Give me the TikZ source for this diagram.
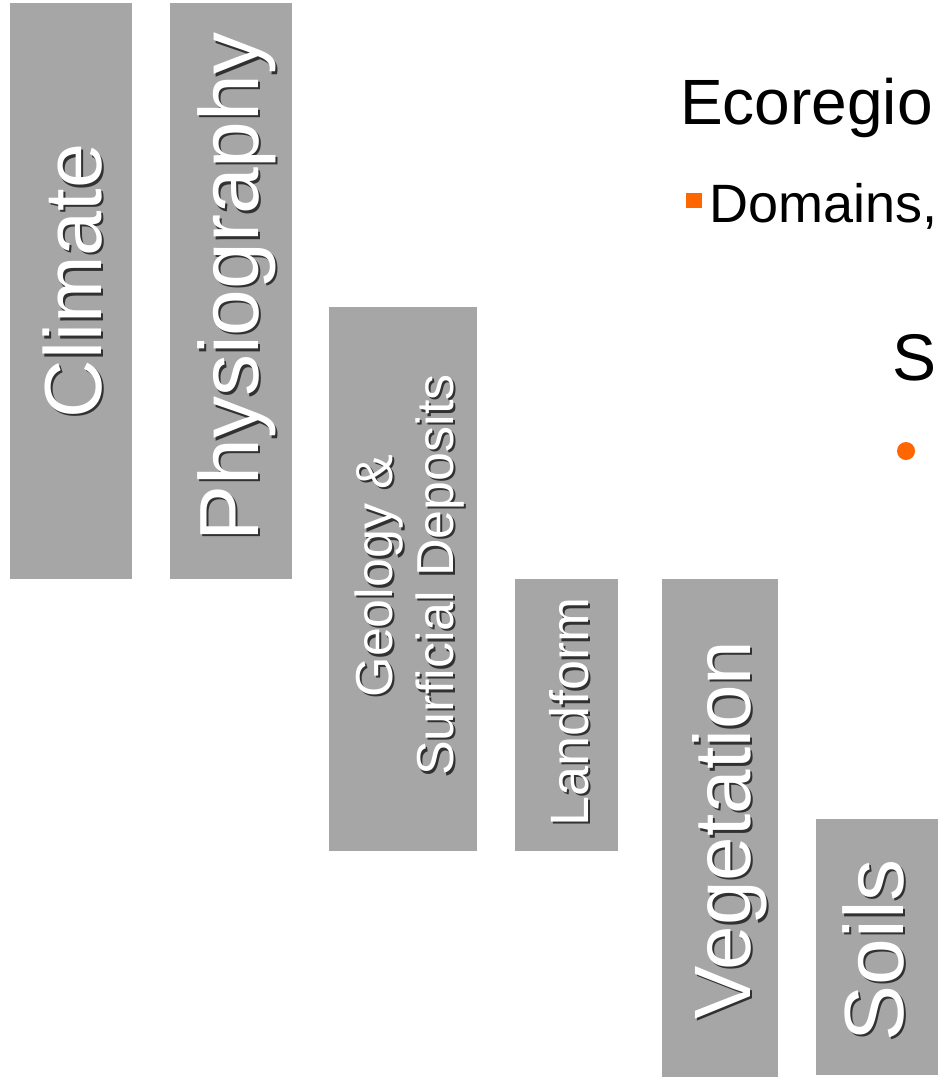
\documentclass[tikz,border=0pt]{standalone}
\usepackage{fontspec}
\setmainfont{Liberation Sans}
\usetikzlibrary{positioning,calc}

\definecolor{panelgray}{HTML}{A6A6A6}
\definecolor{bulletorange}{HTML}{FF6600}

\begin{document}
\begin{tikzpicture}[
    x=1pt, y=1pt,
    panel/.style={fill=panelgray, draw=none, inner sep=0pt, anchor=north west},
    vlabel/.style={rotate=90, anchor=base, inner sep=0pt, text=white},
    vshade/.style={vlabel, text=black, opacity=0.7},
    hlabel/.style={anchor=base west, inner sep=0pt, text=black}
]
\useasboundingbox (0,0) rectangle (938,-1077);
\clip (0,0) rectangle (938,-1077);

% Grey panels
\node[panel, minimum width=122pt, minimum height=576pt] (climate) at (10,-3) {};
\node[panel, minimum width=122pt, minimum height=576pt] (physio) at (170,-3) {};
\node[panel, minimum width=148pt, minimum height=544pt] (geology) at (329,-307) {};
\node[panel, minimum width=103pt, minimum height=272pt] (landform) at (515,-579) {};
\node[panel, minimum width=116pt, minimum height=498pt] (vegetation) at (662,-579) {};
\node[panel, minimum width=122pt, minimum height=256pt] (soils) at (816,-819) {};

% Shadows of the panel labels
\node[vshade, font=\fontsize{81}{90}\selectfont] (climate-sh) at (103.5,-283.5) {Climate};
\node[vshade, font=\fontsize{84}{94}\selectfont] (physio-sh) at (260.5,-289.5) {Physiography};
\node[vshade, font=\fontsize{52}{60}\selectfont] (geo1-sh) at (394.5,-578.5) {Geology \&};
\node[vshade, font=\fontsize{52}{60}\selectfont] (geo2-sh) at (455.5,-577.5) {Surficial Deposits};
\node[vshade, font=\fontsize{54}{62}\selectfont] (landform-sh) at (590.5,-714.5) {Landform};
\node[vshade, font=\fontsize{80}{90}\selectfont] (vegetation-sh) at (752.5,-832.5) {Vegetation};
\node[vshade, font=\fontsize{84}{94}\selectfont] (soils-sh) at (905.5,-952.5) {Soils};

% Panel labels
\node[vlabel, font=\fontsize{81}{90}\selectfont] (climate-lb) at (101,-281) {Climate};
\node[vlabel, font=\fontsize{84}{94}\selectfont] (physio-lb) at (258,-287) {Physiography};
\node[vlabel, font=\fontsize{52}{60}\selectfont] (geo1-lb) at (392,-576) {Geology \&};
\node[vlabel, font=\fontsize{52}{60}\selectfont] (geo2-lb) at (453,-575) {Surficial Deposits};
\node[vlabel, font=\fontsize{54}{62}\selectfont] (landform-lb) at (588,-712) {Landform};
\node[vlabel, font=\fontsize{80}{90}\selectfont] (vegetation-lb) at (750,-830) {Vegetation};
\node[vlabel, font=\fontsize{84}{94}\selectfont] (soils-lb) at (903,-950) {Soils};

% Slide text on the right
\node[hlabel, font=\fontsize{64}{72}\selectfont] (title) at (680,-124) {Ecoregio};
\node[fill=bulletorange, inner sep=0pt, minimum size=15.5pt] (sq) at (694,-200.5) {};
\node[hlabel, font=\fontsize{54}{62}\selectfont] (domains) at (709,-222) {Domains,};
\node[hlabel, font=\fontsize{66}{74}\selectfont] (sub) at (892,-380) {S};
\node[circle, fill=bulletorange, inner sep=0pt, minimum size=18pt] (dot) at (906,-451) {};
\end{tikzpicture}
\end{document}
